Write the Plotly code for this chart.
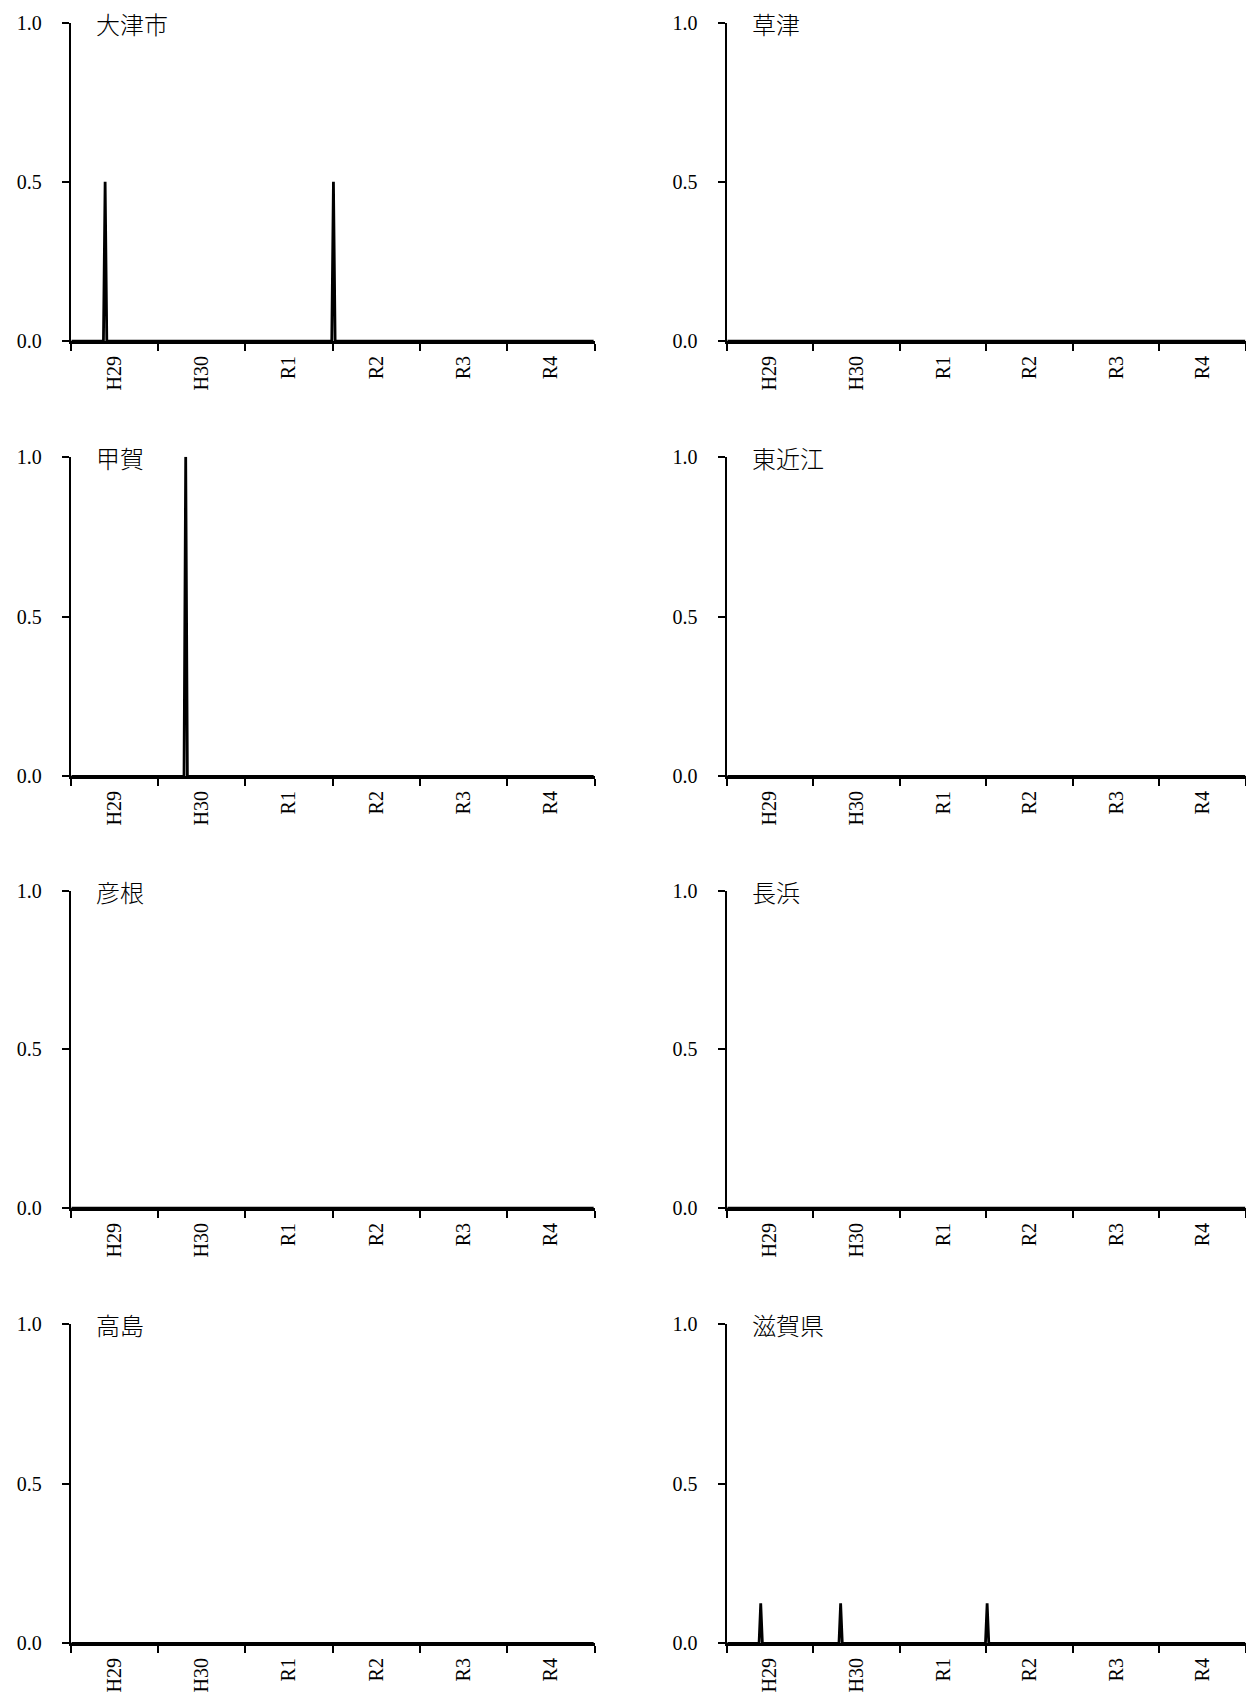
import plotly.graph_objects as go

# ---------------- data ----------------
years = ["H29", "H30", "R1", "R2", "R3", "R4"]
WEEKS_PER_YEAR = 52
regions = ["大津市", "草津", "甲賀", "東近江", "彦根", "長浜", "高島", "滋賀県"]

# non-zero weekly values (year, week number) -> value; every other week is 0
otsu_weeks = [("H29", 21), ("R2", 1)]
otsu_vals = [0.5, 0.5]
kusatsu_weeks, kusatsu_vals = [], []
koka_weeks = [("H30", 17)]
koka_vals = [1.0]
higashiomi_weeks, higashiomi_vals = [], []
hikone_weeks, hikone_vals = [], []
nagahama_weeks, nagahama_vals = [], []
takashima_weeks, takashima_vals = [], []
shiga_weeks = [("H29", 21), ("H30", 17), ("R2", 1)]
shiga_vals = [0.125, 0.125, 0.125]

sparse = {
    "大津市": (otsu_weeks, otsu_vals),
    "草津": (kusatsu_weeks, kusatsu_vals),
    "甲賀": (koka_weeks, koka_vals),
    "東近江": (higashiomi_weeks, higashiomi_vals),
    "彦根": (hikone_weeks, hikone_vals),
    "長浜": (nagahama_weeks, nagahama_vals),
    "高島": (takashima_weeks, takashima_vals),
    "滋賀県": (shiga_weeks, shiga_vals),
}

N = len(years) * WEEKS_PER_YEAR
week_serial = list(range(1, N + 1))


def series(name):
    vals = [0.0] * N
    wk, v = sparse[name]
    for (yr, w), val in zip(wk, v):
        vals[years.index(yr) * WEEKS_PER_YEAR + (w - 1)] = val
    return vals


# ---------------- layout ----------------
W, H = 1246, 1693
col_px = [(70.7, 594.5), (726.6, 1246.0)]
row_px = [(22.5, 341.2), (456.7, 776.3), (890.7, 1208.2), (1323.7, 1643.3)]

SERIF = "Liberation Serif, DejaVu Serif, serif"
CJK = "Noto Sans CJK JP"

boundaries = [i * WEEKS_PER_YEAR + 0.5 for i in range(len(years) + 1)]
centers = [i * WEEKS_PER_YEAR + WEEKS_PER_YEAR / 2 + 0.5 for i in range(len(years))]

fig = go.Figure()
layout = dict(
    width=W, height=H, autosize=False,
    margin=dict(l=0, r=0, t=0, b=0, pad=0),
    paper_bgcolor="white", plot_bgcolor="white",
    showlegend=False,
)
annotations = []

for idx, name in enumerate(regions):
    r, c = divmod(idx, 2)
    k = idx + 1
    xs = "" if k == 1 else str(k)
    x0, x1 = col_px[c]
    y0, y1 = row_px[r]
    xdom = [x0 / W, min(x1 / W, 1.0)]
    ydom = [1 - y1 / H, 1 - y0 / H]

    fig.add_trace(go.Scatter(
        x=week_serial, y=series(name), mode="lines",
        line=dict(color="black", width=2.8),
        xaxis="x" + xs, yaxis="y" + xs, hoverinfo="skip", showlegend=False,
    ))

    layout["xaxis" + xs] = dict(
        domain=xdom, anchor="y" + xs, range=[0.5, N + 0.5],
        automargin=False,
        showline=True, linecolor="black", linewidth=2.5,
        showgrid=False, zeroline=False,
        tickmode="array", tickvals=centers, ticktext=years,
        ticks="", tickangle=-90,
        tickfont=dict(family=SERIF, size=20, color="black"),
        ticklabelstandoff=4,
        minor=dict(tickmode="array", tickvals=boundaries, ticks="outside",
                   ticklen=7, tickwidth=2, tickcolor="black", showgrid=False),
        fixedrange=True,
    )
    layout["yaxis" + xs] = dict(
        domain=ydom, anchor="x" + xs, range=[0, 1],
        automargin=False,
        showline=True, linecolor="black", linewidth=2,
        showgrid=False, zeroline=False,
        tickmode="array", tickvals=[0, 0.5, 1], ticktext=["0.0", "0.5", "1.0"],
        ticks="outside", ticklen=7, tickwidth=2, tickcolor="black",
        tickfont=dict(family=SERIF, size=20, color="black"),
        ticklabelstandoff=16,
        fixedrange=True,
    )
    annotations.append(dict(
        text=name, xref="x" + xs + " domain", yref="y" + xs + " domain",
        x=23 / (x1 - x0), y=1 - 1 / (y1 - y0),
        xanchor="left", yanchor="middle", showarrow=False,
        font=dict(family=CJK, size=24, color="black", weight=300),
    ))

layout["annotations"] = annotations
fig.update_layout(**layout)

fig.write_html("out.html", config={"displayModeBar": False},
               post_script="document.body.style.margin='0';")
